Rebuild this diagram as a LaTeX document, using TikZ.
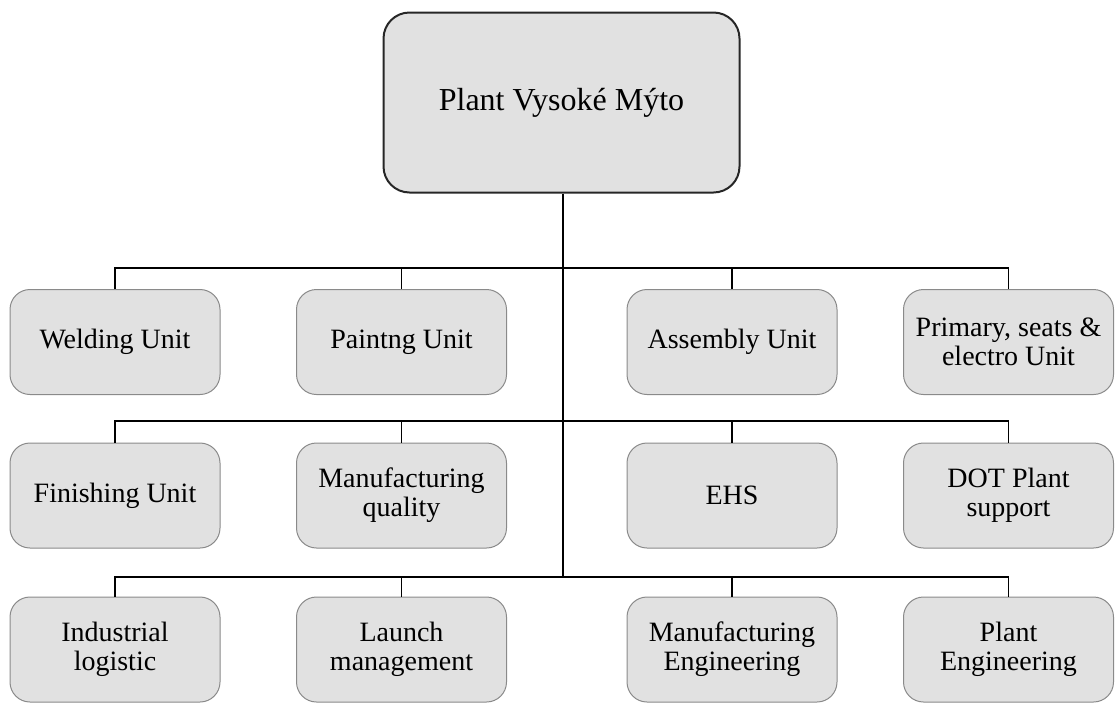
\documentclass[tikz,border=0pt]{standalone}
\usepackage{fontspec}
\setmainfont{Liberation Serif}
\begin{document}
\begin{tikzpicture}[x=1pt,y=-1pt,
  unitbox/.style={draw=boxgray,line width=1pt,fill=boxfill,rounded corners=20pt,
    minimum width=210pt,minimum height=105pt,inner sep=0pt,align=center,
    font=\fontsize{28}{29}\selectfont},
  topbox/.style={draw=black!85,line width=2pt,fill=boxfill,rounded corners=26pt,
    minimum width=356pt,minimum height=180pt,inner sep=0pt,align=center,
    font=\fontsize{32}{34}\selectfont},
  link/.style={draw=black,line width=1.8pt},
  droplink/.style={draw=black,line width=1.3pt}]
\definecolor{boxfill}{HTML}{E1E1E1}
\definecolor{boxgray}{HTML}{8A8A8A}
\useasboundingbox (0,0) rectangle (1115,702);
% top
\node[topbox] (top) at (561.5,102.5) {Plant Vysoké Mýto};
% row 1
\node[unitbox] (weld) at (115,342) {Welding Unit};
\node[unitbox] (paint) at (401.5,342) {Paintng Unit};
\node[unitbox] (asm) at (732,342) {Assembly Unit};
\node[unitbox] (prim) at (1008.5,342) {Primary, seats \&\\electro Unit};
% row 2
\node[unitbox] (fin) at (115,495.5) {Finishing Unit};
\node[unitbox] (mq) at (401.5,495.5) {Manufacturing\\quality};
\node[unitbox] (ehs) at (732,495.5) {EHS};
\node[unitbox] (dot) at (1008.5,495.5) {DOT Plant\\support};
% row 3
\node[unitbox] (ind) at (115,649.5) {Industrial\\logistic};
\node[unitbox] (lau) at (401.5,649.5) {Launch\\management};
\node[unitbox] (me) at (732,649.5) {Manufacturing\\Engineering};
\node[unitbox] (pe) at (1008.5,649.5) {Plant\\Engineering};
% coordinates
\coordinate (t1) at (563,268);
\coordinate (t2) at (563,421);
\coordinate (t3) at (563,577);
% trunk
\draw[link] (top.south -| t1) -- (t3);
% bars
\draw[link] (weld.north) |- (t1) -| (prim.north);
\draw[droplink] (paint.north) -- (paint.north |- t1);
\draw[droplink] (asm.north) -- (asm.north |- t1);
\draw[link] (fin.north) |- (t2) -| (dot.north);
\draw[droplink] (mq.north) -- (mq.north |- t2);
\draw[droplink] (ehs.north) -- (ehs.north |- t2);
\draw[link] (ind.north) |- (t3) -| (pe.north);
\draw[droplink] (lau.north) -- (lau.north |- t3);
\draw[droplink] (me.north) -- (me.north |- t3);
\end{tikzpicture}
\end{document}
